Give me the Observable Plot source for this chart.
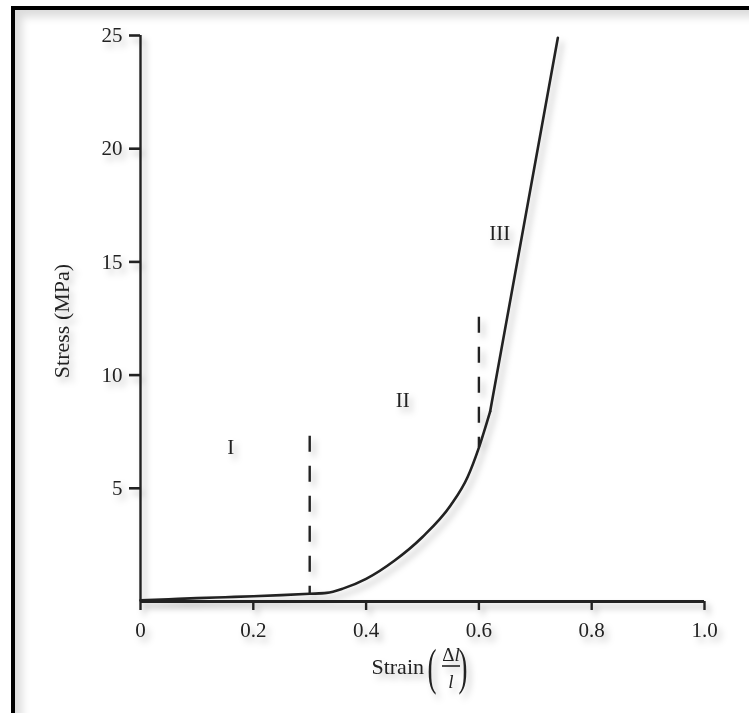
<!DOCTYPE html>
<html>
<head>
<meta charset="utf-8">
<script src="https://cdn.jsdelivr.net/npm/d3@7"></script>
<script src="https://cdn.jsdelivr.net/npm/@observablehq/plot@0.6"></script>
<style>
  html, body { margin: 0; padding: 0; background: #fff; }
  #wrap { position: relative; width: 749px; height: 713px; overflow: hidden; background: #fff; }
  #frame { position: absolute; left: 11px; top: 6px; width: 760px; height: 720px;
           border-left: 4px solid #000; border-top: 4px solid #000;
           box-shadow: inset 7px 7px 9px rgba(0,0,0,0.14); }
  #chart { position: absolute; left: 0; top: 0; }
  #chart svg { filter: drop-shadow(4px 5px 3px rgba(0,0,0,0.25)); }
</style>
</head>
<body>
<div id="wrap"><div id="frame"></div><div id="chart"></div></div>
<script>
// Stress–strain curve
const strain = [0, 0.05, 0.1, 0.15, 0.2, 0.25, 0.3, 0.33, 0.36, 0.4, 0.45, 0.5, 0.55, 0.58, 0.6, 0.62, 0.74];
const stress = [0.05, 0.1, 0.15, 0.19, 0.23, 0.28, 0.34, 0.38, 0.58, 1.0, 1.8, 2.85, 4.25, 5.5, 6.8, 8.4, 24.9];

// Region boundaries (dashed lines)
const boundaryX = [0.3, 0.6];
const boundaryTop = [7.3, 12.55];
const boundaryBottom = [0.34, 6.8];

// Region labels
const regionLabels = ["I", "II", "III"];
const regionX = [0.16, 0.465, 0.637];
const regionY = [6.8, 8.9, 16.25];

// Axis ticks
const xTicks = [0, 0.2, 0.4, 0.6, 0.8, 1.0];
const xTickLabels = ["0", "0.2", "0.4", "0.6", "0.8", "1.0"];
const yTicks = [5, 10, 15, 20, 25];
const yTickLabels = ["5", "10", "15", "20", "25"];

const curve = strain.map((s, i) => ({x: s, y: stress[i]}));
const kink = 0.62;
const curvedPart = curve.filter(d => d.x <= kink);
const straightPart = curve.filter(d => d.x >= kink);
const bounds = boundaryX.map((x, i) => ({x, y1: boundaryTop[i], y2: boundaryBottom[i]}));
const labels = regionLabels.map((t, i) => ({t, x: regionX[i], y: regionY[i]}));

const ink = "#222";
const font = "'Liberation Serif', 'DejaVu Serif', serif";

const chart = Plot.plot({
  width: 749,
  height: 713,
  marginLeft: 140,
  marginRight: 45,
  marginTop: 35,
  marginBottom: 112,
  style: {fontFamily: font, fontSize: "21px", color: ink, background: "transparent", overflow: "visible"},
  x: {domain: [0, 1], label: null},
  y: {domain: [0, 25], label: null},
  marks: [
    Plot.axisX({ticks: xTicks, tickFormat: d => xTickLabels[xTicks.indexOf(d)], tickSize: 9, strokeWidth: 2.4, tickPadding: 12, fontSize: 21, stroke: ink, fill: ink}),
    Plot.axisY({ticks: yTicks, tickFormat: d => yTickLabels[yTicks.indexOf(d)], tickSize: 11, strokeWidth: 2.6, tickPadding: 7, fontSize: 21, stroke: ink, fill: ink}),
    Plot.ruleY([0], {stroke: ink, strokeWidth: 2.8}),
    Plot.ruleX([0], {stroke: ink, strokeWidth: 2.4}),
    Plot.ruleX(bounds, {x: "x", y1: "y1", y2: "y2", stroke: ink, strokeWidth: 2.4, strokeDasharray: "16,14"}),
    Plot.line(curvedPart, {x: "x", y: "y", curve: "monotone-x", stroke: ink, strokeWidth: 2.6}),
    Plot.line(straightPart, {x: "x", y: "y", stroke: ink, strokeWidth: 2.6}),
    Plot.text(labels, {x: "x", y: "y", text: "t", fontSize: 21, fill: ink})
  ]
});
document.getElementById("chart").appendChild(chart);

// Axis titles
const svg = d3.select(chart);
const g = svg.append("g").attr("fill", ink).attr("font-family", font);
g.append("text").attr("transform", "translate(69,321) rotate(-90)").attr("text-anchor", "middle")
  .attr("font-size", 22).text("Stress (MPa)");
// Strain (Δl / l)
g.append("text").attr("x", 424).attr("y", 674).attr("text-anchor", "end").attr("font-size", 22).text("Strain");
g.append("text").attr("transform", "translate(432,684) scale(1,1.9)").attr("font-size", 27).text("(");
g.append("text").attr("transform", "translate(463,684) scale(1,1.9)").attr("font-size", 27).text(")");
g.append("text").attr("x", 451).attr("y", 661).attr("text-anchor", "middle").attr("font-size", 19).text("Δ").append("tspan").attr("font-style", "italic").text("l");
g.append("line").attr("x1", 442).attr("x2", 460).attr("y1", 666).attr("y2", 666).attr("stroke", ink).attr("stroke-width", 1.6);
g.append("text").attr("x", 451).attr("y", 688).attr("text-anchor", "middle").attr("font-size", 19).attr("font-style", "italic").text("l");
</script>
</body>
</html>
